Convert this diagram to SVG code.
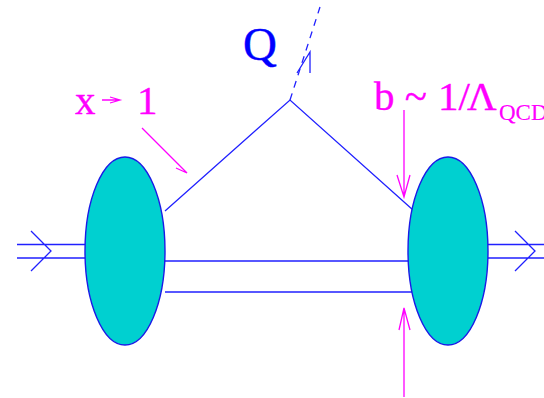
<svg xmlns="http://www.w3.org/2000/svg" width="544" height="398" viewBox="0 0 544 398">
<style>
.b{fill:none;stroke:#2020ff;stroke-width:1.3}
.m{fill:none;stroke:#ff00ff;stroke-width:1.3}
.e{fill:#00d0d0;stroke:#1a1ae6;stroke-width:1.4}
text{font-family:"Liberation Serif","Times New Roman",serif}
.q{fill:#0000ff;stroke:#0000ff;stroke-width:.4;font-size:47px}
.t{fill:#ff00ff;stroke:#ff00ff;stroke-width:.35;font-size:41px}
.s{fill:#ff00ff;stroke:#ff00ff;stroke-width:.15;font-size:23px}
</style>
<rect width="544" height="398" fill="#ffffff"/>
<g id="connectors">
<path class="b" d="M17 244.500H85M17 258H85M31 231L51 251L31 271"/>
<path class="b" d="M488 244.500H544M488 258H544M515 231L535 251L515 271"/>
<path class="b" d="M165 261H410M165 292H412"/>
<path class="b" d="M165 211L290 100L413 210"/>
<path class="b" stroke-dasharray="7 6" d="M290 100L320 7"/>
<path class="b" d="M297 73L310 52V73"/>
<path class="m" d="M102 100H120M110 97L120 100L110 103"/>
<path class="m" d="M142 128L187 173M178 164L187 173L176 168"/>
<path class="m" d="M404 110V197M397 175L404 197L410 175"/>
<path class="m" d="M404 397V308M399 330L404 308L410 330"/>
</g>
<g id="hadron-left"><ellipse class="e" cx="125" cy="251" rx="40" ry="94"/></g>
<g id="hadron-right"><ellipse class="e" cx="448" cy="251" rx="40" ry="94"/></g>
<g id="label-q"><text class="q" x="243" y="60">Q</text></g>
<g id="label-x"><text class="t" x="75" y="114">x</text><text class="t" x="137" y="114">1</text></g>
<g id="label-b"><text class="t" x="374" y="110">b ~ <tspan x="438">1/</tspan><tspan dx="-3">Λ</tspan></text><text class="s" x="499" y="120">QCD</text></g>
</svg>
